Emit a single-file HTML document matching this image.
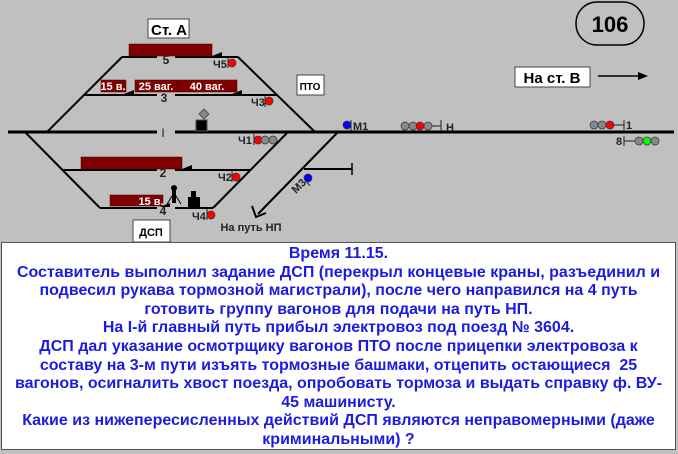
<!DOCTYPE html>
<html><head><meta charset="utf-8"><style>
html,body{margin:0;padding:0;background:#c0c0c0;}
body{width:678px;height:454px;position:relative;overflow:hidden;font-family:"Liberation Sans",sans-serif;}
#txt{position:absolute;left:1px;top:242px;width:675px;height:208px;background:#fff;border:1px solid #555;
color:#1c1ce0;font-weight:bold;font-size:16px;line-height:18.6px;text-align:center;padding-top:2px;box-sizing:border-box;}
</style></head><body>
<svg width="678" height="454" style="position:absolute;left:0;top:0" font-family="Liberation Sans, sans-serif" font-weight="bold">
<g stroke="#000" fill="none">
<line x1="8" y1="132" x2="157" y2="132" stroke-width="3"/>
<line x1="175" y1="132" x2="674" y2="132" stroke-width="3"/>
<g stroke-width="2">
<line x1="122" y1="57" x2="157" y2="57"/><line x1="175" y1="57" x2="238" y2="57"/>
<line x1="83" y1="95" x2="157" y2="95"/><line x1="175" y1="95" x2="278" y2="95"/>
<line x1="62" y1="170" x2="157" y2="170"/><line x1="175" y1="170" x2="250" y2="170"/>
<line x1="100" y1="208" x2="157" y2="208"/><line x1="175" y1="208" x2="213" y2="208"/>
<line x1="47" y1="132" x2="122" y2="57"/>
<line x1="238" y1="57" x2="315" y2="132"/>
<line x1="25" y1="132" x2="100" y2="208"/>
<line x1="213" y1="208" x2="288" y2="132"/>
<line x1="338" y1="132" x2="258" y2="214"/>
<line x1="304" y1="169" x2="352" y2="169"/>
<line x1="352" y1="163" x2="352" y2="175" stroke-width="1.5"/>
</g>
<polyline points="252,206 256,217 266,213" stroke-width="2"/>
<line x1="598" y1="76" x2="640" y2="76" stroke-width="1.5"/>
</g>
<polygon points="648,76 638,72 638,80" fill="#000"/>
<g font-size="12" fill="#222" text-anchor="middle">
<text x="166" y="64">5</text><text x="164" y="102">3</text><text x="163" y="137" font-weight="normal">I</text>
<text x="163" y="177">2</text><text x="163" y="215">4</text>
</g>
<g fill="#800000" stroke="#400" stroke-width="0.5">
<rect x="129" y="44" width="83" height="12"/>
<rect x="101" y="80" width="25" height="12"/>
<rect x="135" y="80" width="43" height="12"/>
<rect x="178" y="80" width="59" height="12"/>
<rect x="81" y="157" width="101" height="12"/>
<rect x="110" y="195" width="53" height="11"/>
</g>
<g fill="#fff" font-size="11" text-anchor="middle">
<text x="113" y="90">15 в.</text><text x="156" y="90">25 ваг.</text><text x="207" y="90">40 ваг.</text>
<text x="151" y="205">15 в.</text>
</g>
<g fill="#000">
<polygon points="212,56 222,52 222,56"/><polygon points="124,94 134,90 134,94"/><polygon points="232,94 242,90 242,94"/>
<polygon points="182,169 192,165 192,169"/><polygon points="160,207 170,203 170,207"/>
</g>
<rect x="196" y="120" width="11" height="11" fill="#000" stroke="#554" />
<polygon points="204,109 209,114 204,119 199,114" fill="#888" stroke="#555"/>
<circle cx="174" cy="188" r="3" fill="#000"/>
<line x1="174" y1="190" x2="174" y2="203" stroke="#000" stroke-width="4"/>
<line x1="172" y1="196" x2="166" y2="206" stroke="#000"/><line x1="176" y1="196" x2="181" y2="204" stroke="#000"/>
<rect x="188" y="197" width="12" height="10" fill="#000"/><rect x="191" y="191" width="5" height="7" fill="#000"/>
<g fill="#fff" stroke="#444">
<rect x="148" y="19" width="41" height="19"/>
<rect x="297" y="75" width="27" height="20"/>
<rect x="133" y="220" width="37" height="22"/>
<rect x="515" y="67" width="75" height="20"/>
<rect x="576" y="2" width="68" height="43" rx="21" fill="none" stroke="#000" stroke-width="1.5"/>
</g>
<g fill="#000" text-anchor="middle">
<text x="169" y="35" font-size="15">Ст. А</text>
<text x="310" y="90" font-size="10">ПТО</text>
<text x="151" y="236" font-size="11">ДСП</text>
<text x="552" y="83" font-size="15">На ст. В</text>
<text x="610" y="32" font-size="22">106</text>
<text x="251" y="231" font-size="11" fill="#222">На путь НП</text>
</g>
<g font-size="11" fill="#222">
<text x="213" y="68">Ч5</text><text x="251" y="106">Ч3</text><text x="238" y="144">Ч1</text>
<text x="218" y="181">Ч2</text><text x="192" y="220">Ч4</text>
<text x="353" y="130">М1</text><text x="446" y="131">Н</text><text x="626" y="129">1</text><text x="616" y="145">8</text>
<text x="0" y="0" transform="translate(296,194) rotate(-45)">М3</text>
</g>
<g stroke="#222" stroke-width="1">
<line x1="228" y1="57" x2="228" y2="68"/><line x1="265" y1="96" x2="265" y2="107"/>
<line x1="254" y1="134" x2="254" y2="145"/><line x1="232" y1="171" x2="232" y2="182"/>
<line x1="207" y1="209" x2="207" y2="220"/><line x1="351" y1="120" x2="351" y2="131"/>
<line x1="306" y1="181" x2="310" y2="186"/>
<line x1="432" y1="126" x2="441" y2="126"/><line x1="441" y1="120" x2="441" y2="131"/>
<line x1="614" y1="125" x2="624" y2="125"/><line x1="624" y1="120" x2="624" y2="130"/>
<line x1="624" y1="136" x2="624" y2="146"/><line x1="624" y1="141" x2="635" y2="141"/>
</g>
<g stroke="#333" stroke-width="0.7">
<circle cx="232" cy="63" r="4" fill="#f00"/><circle cx="269" cy="101" r="4" fill="#f00"/>
<circle cx="258" cy="140" r="4" fill="#f00"/><circle cx="265" cy="140" r="4" fill="#888"/><circle cx="273" cy="140" r="4" fill="#888"/>
<circle cx="236" cy="177" r="4" fill="#f00"/><circle cx="211" cy="215" r="4" fill="#f00"/>
<circle cx="347" cy="125" r="4" fill="#00f"/><circle cx="308" cy="178" r="4" fill="#00f"/>
<circle cx="405" cy="126" r="4" fill="#888"/><circle cx="413" cy="126" r="4" fill="#888"/><circle cx="420" cy="126" r="4" fill="#f00"/><circle cx="428" cy="126" r="4" fill="#888"/>
<circle cx="594" cy="125" r="4" fill="#888"/><circle cx="602" cy="125" r="4" fill="#888"/><circle cx="610" cy="125" r="4" fill="#f00"/>
<circle cx="639" cy="141" r="4" fill="#888"/><circle cx="647" cy="141" r="4" fill="#0f0"/><circle cx="655" cy="141" r="4" fill="#888"/>
</g>
</svg>
<div id="txt">Время 11.15.<br>Составитель выполнил задание ДСП (перекрыл концевые краны, разъединил и<br>подвесил рукава тормозной магистрали), после чего направился на 4 путь<br>готовить группу вагонов для подачи на путь НП.<br>На I-й главный путь прибыл электровоз под поезд № 3604.<br>ДСП дал указание осмотрщику вагонов ПТО после прицепки электровоза к<br>составу на 3-м пути изъять тормозные башмаки, отцепить остающиеся&nbsp; 25<br>вагонов, осигналить хвост поезда, опробовать тормоза и выдать справку ф. ВУ-<br>45 машинисту.<br>Какие из нижепересисленных действий ДСП являются неправомерными (даже<br>криминальными) ?</div>
</body></html>
